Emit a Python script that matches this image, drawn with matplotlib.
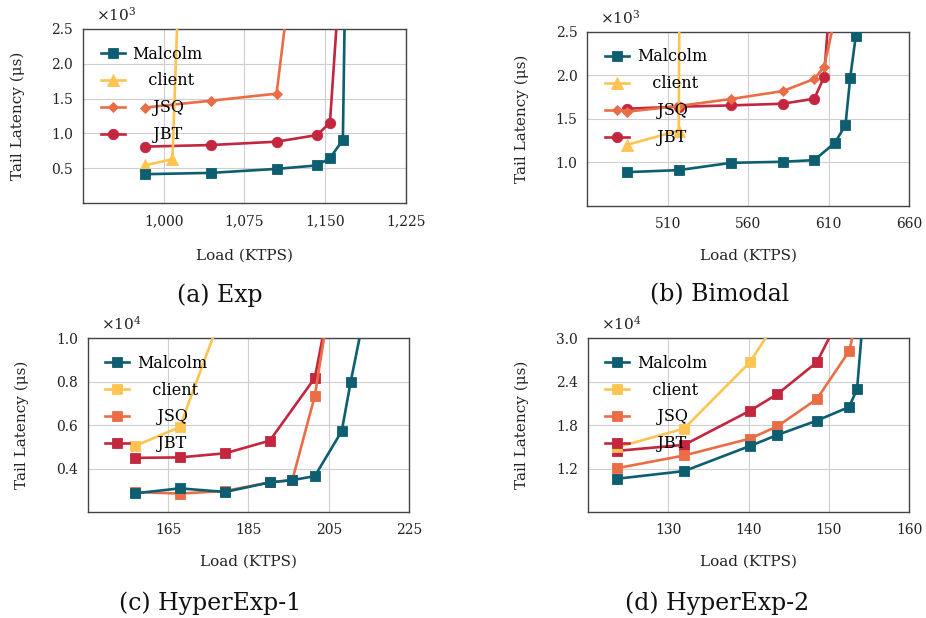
import matplotlib
matplotlib.use("Agg")
import matplotlib.pyplot as plt
from matplotlib.ticker import FuncFormatter, FixedLocator

plt.rcParams['font.family'] = ['DejaVu Serif']
plt.rcParams['mathtext.fontset'] = 'dejavuserif'

# ---------------- data ----------------
series_names = ["Malcolm", "client", "JSQ", "JBT"]
legend_labels = ["Malcolm", "   client", "    JSQ", "    JBT"]
colors = ["#0d5e70", "#fdc452", "#eb6d46", "#c3263e"]

# (a) Exp   (latency in x10^3 us)
exp_malcolm_load = [982.3, 1044.0, 1104.8, 1142.3, 1154.4, 1166.4, 1168.4]
exp_malcolm_lat = [0.414, 0.433, 0.490, 0.540, 0.645, 0.905, 3.0]
exp_client_load = [982.3, 1008.1, 1013.5]
exp_client_lat = [0.540, 0.630, 3.0]
exp_jsq_load = [982.3, 1044.0, 1104.8, 1116.2]
exp_jsq_lat = [1.371, 1.470, 1.571, 3.0]
exp_jbt_load = [982.3, 1044.0, 1104.8, 1142.3, 1154.4, 1162.5]
exp_jbt_lat = [0.810, 0.833, 0.881, 0.976, 1.152, 3.0]

# (b) Bimodal   (x10^3 us)
bim_malcolm_load = [484.9, 516.8, 549.4, 581.4, 601.0, 613.8, 620.4, 623.3, 626.8, 628.0]
bim_malcolm_lat = [0.889, 0.912, 0.996, 1.008, 1.027, 1.226, 1.429, 1.970, 2.454, 3.0]
bim_client_load = [484.9, 516.8, 517.3]
bim_client_lat = [1.203, 1.367, 3.0]
bim_jsq_load = [484.9, 516.8, 549.4, 581.4, 601.0, 607.1, 617.9]
bim_jsq_lat = [1.584, 1.649, 1.730, 1.820, 1.960, 2.100, 3.0]
bim_jbt_load = [484.9, 516.8, 549.4, 581.4, 601.0, 607.1, 611.2]
bim_jbt_lat = [1.618, 1.641, 1.656, 1.675, 1.733, 1.981, 3.0]

# (c) HyperExp-1   (x10^4 us)
he1_malcolm_load = [156.7, 167.9, 179.2, 190.3, 195.9, 201.5, 208.2, 210.4, 214.8]
he1_malcolm_lat = [0.287, 0.310, 0.2935, 0.3375, 0.348, 0.366, 0.573, 0.797, 1.2]
he1_client_load = [156.7, 167.9, 180.1]
he1_client_lat = [0.504, 0.591, 1.2]
he1_jsq_load = [156.7, 167.9, 179.2, 190.3, 195.9, 201.5, 205.5]
he1_jsq_lat = [0.2935, 0.286, 0.298, 0.3375, 0.348, 0.735, 1.2]
he1_jbt_load = [156.7, 167.9, 179.2, 190.3, 201.5, 205.5]
he1_jbt_lat = [0.450, 0.452, 0.471, 0.529, 0.817, 1.2]

# (d) HyperExp-2   (x10^4 us)
he2_malcolm_load = [123.7, 132.0, 140.2, 143.6, 148.5, 152.5, 153.5, 154.4]
he2_malcolm_lat = [1.063, 1.168, 1.515, 1.666, 1.863, 2.050, 2.297, 3.5]
he2_client_load = [123.7, 132.0, 140.2, 145.0]
he2_client_lat = [1.497, 1.754, 2.670, 3.5]
he2_jsq_load = [123.7, 132.0, 140.2, 143.6, 148.5, 152.5, 154.0]
he2_jsq_lat = [1.209, 1.383, 1.616, 1.785, 2.160, 2.817, 3.5]
he2_jbt_load = [123.7, 132.0, 140.2, 143.6, 148.5, 152.3]
he2_jbt_lat = [1.447, 1.529, 2.000, 2.229, 2.667, 3.5]

# ---------------- figure ----------------
fig = plt.figure(figsize=(9.26, 6.18), dpi=100)

panels = [
    dict(pos=[0.0896, 0.6715, 0.3488, 0.2816], xlim=(925, 1225), ylim=(0, 2.5),
         xticks=[1000, 1075, 1150, 1225], yticks=[0.5, 1.0, 1.5, 2.0, 2.5],
         exp=3, comma=True,
         data=[(exp_malcolm_load, exp_malcolm_lat), (exp_client_load, exp_client_lat),
               (exp_jsq_load, exp_jsq_lat), (exp_jbt_load, exp_jbt_lat)],
         markers=["s", "^", "D", "o"], xl=-0.305, yl=-0.201, caption="(a) Exp", cap=(0.2376, 0.5227)),
    dict(pos=[0.6342, 0.6667, 0.3477, 0.2816], xlim=(460, 660), ylim=(0.5, 2.5),
         xticks=[510, 560, 610, 660], yticks=[1.0, 1.5, 2.0, 2.5],
         exp=3, comma=False,
         data=[(bim_malcolm_load, bim_malcolm_lat), (bim_client_load, bim_client_lat),
               (bim_jsq_load, bim_jsq_lat), (bim_jbt_load, bim_jbt_lat)],
         markers=["s", "^", "D", "o"], xl=-0.287, yl=-0.204, caption="(b) Bimodal", cap=(0.7775, 0.5227)),
    dict(pos=[0.0947, 0.1710, 0.3473, 0.2820], xlim=(145, 225), ylim=(0.2, 1.0),
         xticks=[165, 185, 205, 225], yticks=[0.4, 0.6, 0.8, 1.0],
         exp=4, comma=False,
         data=[(he1_malcolm_load, he1_malcolm_lat), (he1_client_load, he1_client_lat),
               (he1_jsq_load, he1_jsq_lat), (he1_jbt_load, he1_jbt_lat)],
         markers=["s", "s", "s", "s"], xl=-0.285, yl=-0.205, caption="(c) HyperExp-1", cap=(0.2268, 0.0243)),
    dict(pos=[0.6347, 0.1710, 0.3473, 0.2820], xlim=(120, 160), ylim=(0.6, 3.0),
         xticks=[130, 140, 150, 160], yticks=[1.2, 1.8, 2.4, 3.0],
         exp=4, comma=False,
         data=[(he2_malcolm_load, he2_malcolm_lat), (he2_client_load, he2_client_lat),
               (he2_jsq_load, he2_jsq_lat), (he2_jbt_load, he2_jbt_lat)],
         markers=["s", "s", "s", "s"], xl=-0.285, yl=-0.205, caption="(d) HyperExp-2", cap=(0.774, 0.0243)),
]

msize = {"s": 7, "^": 8, "D": 5.5, "o": 7.5}

for p in panels:
    ax = fig.add_axes(p["pos"])
    ax.set_axisbelow(True)
    for i, (xs, ys) in enumerate(p["data"]):
        m = p["markers"][i]
        ax.plot(xs, ys, color=colors[i], lw=1.9, marker=m, ms=msize[m],
                markeredgewidth=0.6, markeredgecolor=colors[i],
                label=legend_labels[i], zorder=3 + (3 - i) * 0.1)
    ax.set_xlim(*p["xlim"])
    ax.set_ylim(*p["ylim"])
    ax.xaxis.set_major_locator(FixedLocator(p["xticks"]))
    ax.yaxis.set_major_locator(FixedLocator(p["yticks"]))
    if p["comma"]:
        ax.xaxis.set_major_formatter(FuncFormatter(lambda v, pos: f"{v:,.0f}"))
    else:
        ax.xaxis.set_major_formatter(FuncFormatter(lambda v, pos: f"{v:.0f}"))
    ax.yaxis.set_major_formatter(FuncFormatter(lambda v, pos: f"{v:.1f}"))
    ax.grid(True, color="#cfcfcf", lw=0.8)
    ax.tick_params(length=0, labelsize=10, colors="#222222")
    ax.tick_params(axis="x", pad=8)
    ax.tick_params(axis="y", pad=7)
    for s in ax.spines.values():
        s.set_color("#444444")
        s.set_linewidth(1.0)
    ax.set_xlabel("Load (KTPS)", fontsize=11, color="#222222")
    ax.set_ylabel("Tail Latency (μs)", fontsize=11, color="#222222")
    ax.xaxis.label.set_va("center")
    ax.yaxis.label.set_va("center")
    ax.xaxis.set_label_coords(0.5, p["xl"])
    ax.yaxis.set_label_coords(p["yl"], 0.5)
    ax.text(0.04, 1.08, r"$\times10^{%d}$" % p["exp"], transform=ax.transAxes,
            fontsize=11, ha="left", va="center", color="#222222")
    ax.legend(loc="upper left", bbox_to_anchor=(0.055, 0.905), frameon=False,
              fontsize=11.5, handlelength=1.5, handletextpad=0.5, labelspacing=0.62,
              borderpad=0, borderaxespad=0, numpoints=1)
    fig.text(p["cap"][0], p["cap"][1], p["caption"], fontsize=17, ha="center", va="center",
             color="#111111")

fig.savefig("out.png", dpi=100)
